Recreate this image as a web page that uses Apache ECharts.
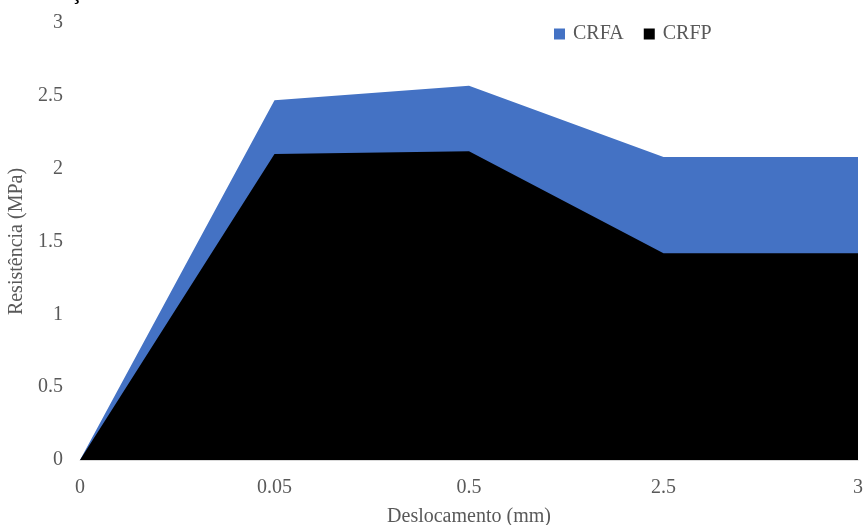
<!DOCTYPE html>
<html>
<head>
<meta charset="utf-8">
<script src="https://cdn.jsdelivr.net/npm/echarts@6/dist/echarts.min.js"></script>
<style>
  html, body { margin: 0; padding: 0; background: #fff; }
  #chart { width: 863px; height: 525px; }
</style>
</head>
<body>
<div id="chart"></div>
<script>
// Displacement categories (mm) and resistance values (MPa)
const deslocamento = ['0', '0.05', '0.5', '2.5', '3'];
const crfa = [0, 2.47, 2.57, 2.08, 2.08];
const crfp = [0, 2.10, 2.12, 1.42, 1.42];
const yTicks = { min: 0, max: 3, interval: 0.5 };

const serif = '"Liberation Serif", "DejaVu Serif", serif';
const grey = '#595959';

const chart = echarts.init(document.getElementById('chart'));
chart.setOption({
  animation: false,
  textStyle: { fontFamily: serif },
  // tail of the heading line that sits just above the canvas edge
  graphic: [{
    type: 'text',
    left: 72,
    top: -16,
    style: { text: 'ç', font: 'bold 20px ' + serif, fill: '#000' }
  }],
  legend: {
    data: ['CRFA', 'CRFP'],
    left: 549,
    top: 19,
    itemWidth: 11,
    itemHeight: 11,
    itemGap: 20,
    icon: 'rect',
    textStyle: { fontFamily: serif, fontSize: 20, color: grey, padding: [0, 0, 0, 3] }
  },
  grid: { left: 80, right: 5, top: 23, bottom: 65, outerBoundsMode: 'none', containLabel: false },
  xAxis: {
    type: 'category',
    data: deslocamento,
    boundaryGap: false,
    name: 'Deslocamento (mm)',
    nameLocation: 'middle',
    nameGap: 47,
    nameTextStyle: { fontFamily: serif, fontSize: 20, color: grey },
    axisLine: { lineStyle: { color: '#d9d9d9', width: 1 } },
    axisTick: { show: false },
    axisLabel: { fontFamily: serif, fontSize: 20, color: grey, margin: 18 }
  },
  yAxis: {
    type: 'value',
    min: yTicks.min,
    max: yTicks.max,
    interval: yTicks.interval,
    name: 'Resistência (MPa)',
    nameLocation: 'middle',
    nameGap: 45,
    nameTextStyle: { fontFamily: serif, fontSize: 20, color: grey },
    axisLine: { show: false },
    axisTick: { show: false },
    splitLine: { show: false },
    axisLabel: { fontFamily: serif, fontSize: 20, color: grey, margin: 17 }
  },
  series: [
    {
      name: 'CRFA',
      type: 'line',
      data: crfa,
      symbol: 'none',
      lineStyle: { width: 0 },
      itemStyle: { color: '#4472C4' },
      areaStyle: { color: '#4472C4', opacity: 1 }
    },
    {
      name: 'CRFP',
      type: 'line',
      data: crfp,
      symbol: 'none',
      lineStyle: { width: 0 },
      itemStyle: { color: '#000000' },
      areaStyle: { color: '#000000', opacity: 1 }
    }
  ]
});
</script>
</body>
</html>
